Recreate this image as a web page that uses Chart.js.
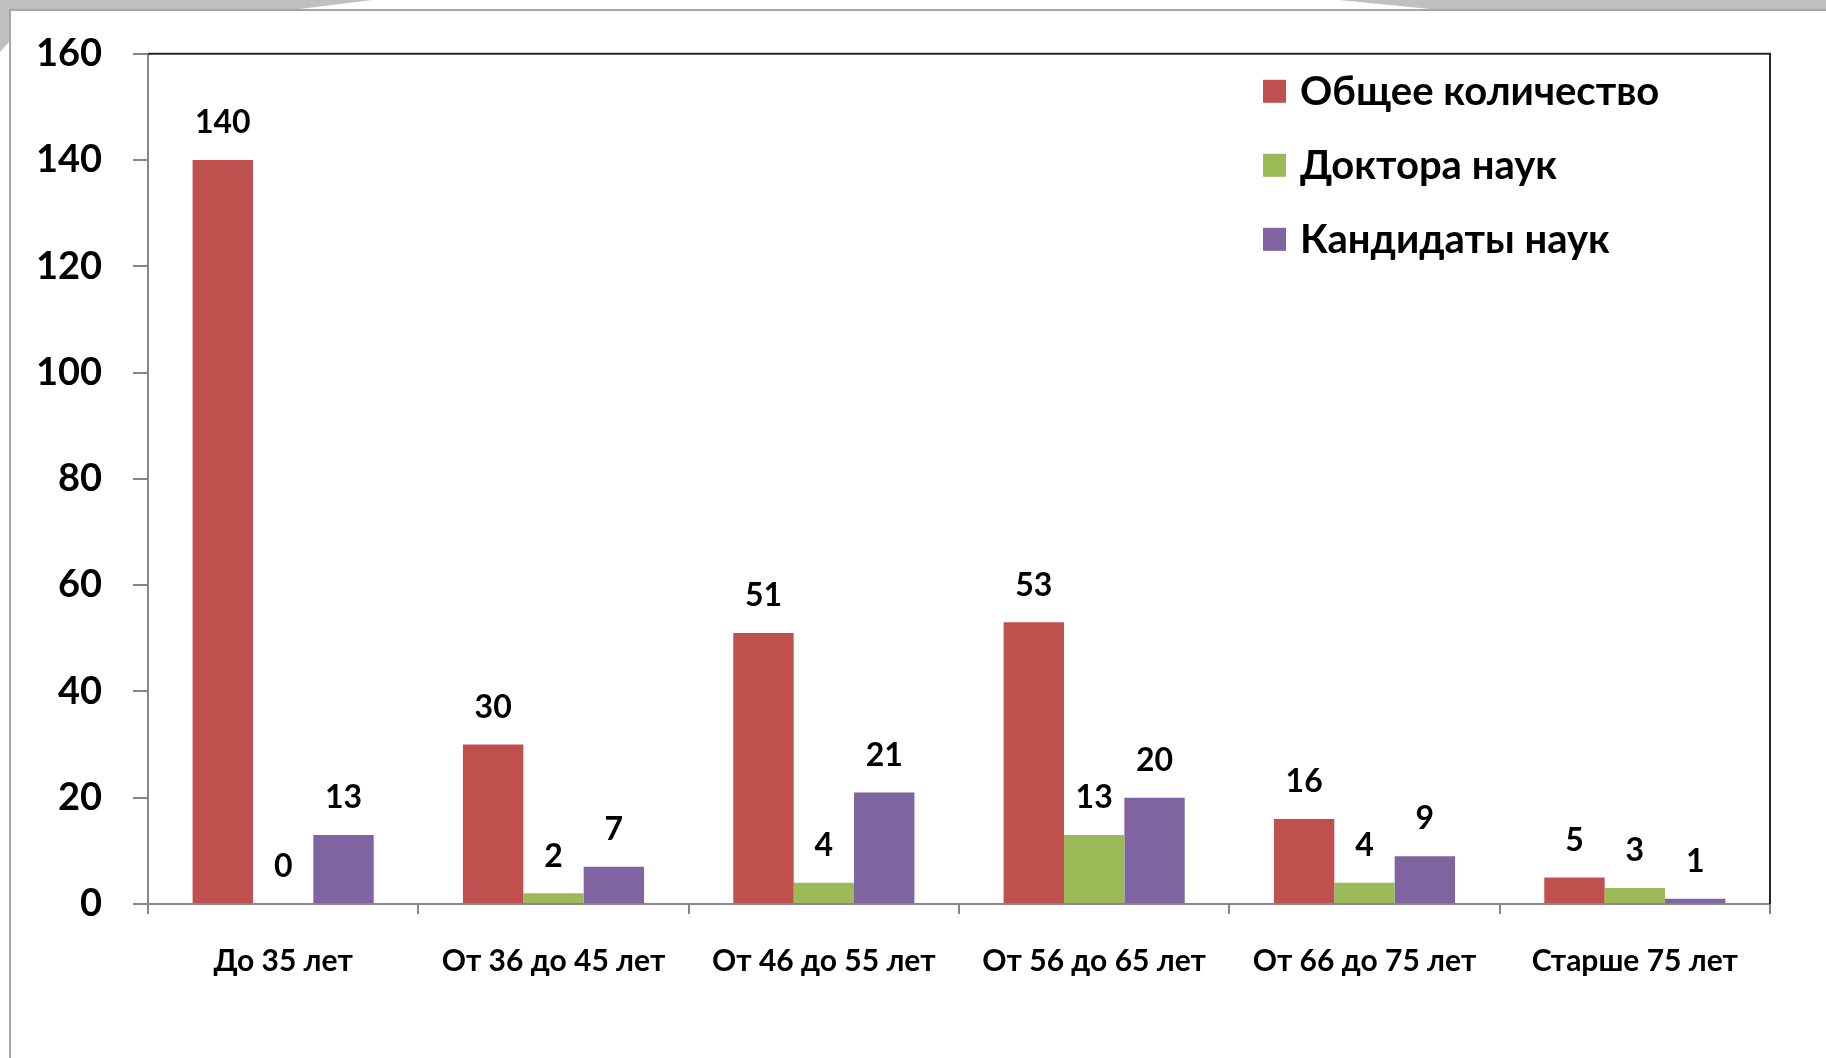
<!DOCTYPE html>
<html><head><meta charset="utf-8">
<script src="https://cdn.jsdelivr.net/npm/chart.js@4"></script>
<style>
html,body{margin:0;padding:0;background:#fff;overflow:hidden}
#wrap{position:relative;width:1826px;height:1058px}
#deco{position:absolute;left:0;top:0}
#c{position:absolute;left:0;top:0}
</style></head><body>
<div id="wrap">
<svg id="deco" width="1826" height="1058">
 <polygon points="0,0 372,0 300,9 9,9 9,42 0,52" fill="#c0c0c0"/>
 <polygon points="1339,0 1826,0 1826,9 1430,9" fill="#c0c0c0"/>
 <line x1="9" y1="10" x2="1826" y2="10" stroke="#a6a6a6" stroke-width="2"/>
 <line x1="10" y1="9" x2="10" y2="1058" stroke="#a6a6a6" stroke-width="2"/>
</svg>
<canvas id="c" width="1826" height="1058"></canvas>
</div>
<script>
const categories = ['До 35 лет','От 36 до 45 лет','От 46 до 55 лет','От 56 до 65 лет','От 66 до 75 лет','Старше 75 лет'];
const totalValues = [140, 30, 51, 53, 16, 5];
const doctorValues = [0, 2, 4, 13, 4, 3];
const candidateValues = [13, 7, 21, 20, 9, 1];
const seriesNames = ['Общее количество', 'Доктора наук', 'Кандидаты наук'];
const seriesColors = ['#C0504D', '#9BBB59', '#8064A2'];
const yMin = 0, yMax = 160, yStep = 20;

const FONT = 'Lato, "Open Sans", "DejaVu Sans", sans-serif';
Chart.defaults.font.family = FONT;
Chart.defaults.color = '#000';

const overlay = {
  id: 'overlay',
  afterDatasetsDraw(chart) {
    const ctx = chart.ctx, a = chart.chartArea;
    ctx.save();
    ctx.strokeStyle = '#262626';
    ctx.lineWidth = 2;
    ctx.beginPath();
    ctx.moveTo(a.left, a.top);
    ctx.lineTo(a.right, a.top);
    ctx.lineTo(a.right, a.bottom);
    ctx.stroke();

    ctx.font = 'bold 32px ' + FONT;
    ctx.fillStyle = '#000';
    ctx.textAlign = 'center';
    ctx.textBaseline = 'middle';
    chart.data.datasets.forEach((ds, i) => {
      chart.getDatasetMeta(i).data.forEach((bar, j) => {
        ctx.fillText(String(ds.data[j]), bar.x, bar.y - 37);
      });
    });

    ctx.font = 'bold 40px ' + FONT;
    ctx.textAlign = 'left';
    chart.data.datasets.forEach((ds, i) => {
      const cy = a.top + 37 + i * 74;
      const sx = a.right - 507;
      ctx.fillStyle = ds.backgroundColor;
      ctx.fillRect(sx, cy - 11, 23, 23);
      ctx.fillStyle = '#000';
      ctx.fillText(ds.label, sx + 37, cy + 1);
    });
    ctx.restore();
  }
};

new Chart(document.getElementById('c'), {
  type: 'bar',
  data: {
    labels: categories,
    datasets: [
      { label: seriesNames[0], data: totalValues, backgroundColor: seriesColors[0] },
      { label: seriesNames[1], data: doctorValues, backgroundColor: seriesColors[1] },
      { label: seriesNames[2], data: candidateValues, backgroundColor: seriesColors[2] }
    ]
  },
  options: {
    responsive: false,
    devicePixelRatio: 1,
    animation: false,
    datasets: { bar: { categoryPercentage: 0.67, barPercentage: 1.0 } },
    layout: { padding: { top: 50, right: 56, left: 0, bottom: 0 } },
    plugins: { legend: { display: false }, tooltip: { enabled: false } },
    scales: {
      x: {
        grid: { display: true, drawOnChartArea: false, drawTicks: true, tickLength: 10, color: '#868686', lineWidth: 2, offset: true },
        border: { display: true, color: '#868686', width: 2 },
        ticks: { font: { size: 30, weight: 'bold' }, color: '#000', padding: 29, maxRotation: 0, autoSkip: false },
        afterFit: s => { s.height = 154; }
      },
      y: {
        min: yMin, max: yMax,
        ticks: { stepSize: yStep, font: { size: 38, weight: 'bold' }, color: '#000', padding: 31 },
        grid: { display: true, drawOnChartArea: false, drawTicks: true, tickLength: 15, color: '#868686', lineWidth: 2 },
        border: { display: true, color: '#868686', width: 2 },
        afterFit: s => { s.width = 148; }
      }
    }
  },
  plugins: [overlay]
});
</script>
</body></html>
